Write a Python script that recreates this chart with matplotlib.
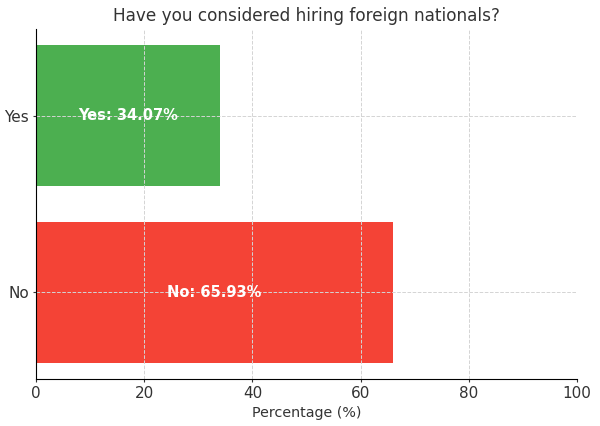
import matplotlib
matplotlib.use("Agg")
import matplotlib.pyplot as plt

categories = ["No", "Yes"]
values = [65.93, 34.07]
colors = ["#f44336", "#4caf50"]
xticks = [0, 20, 40, 60, 80, 100]

txt = "#333333"
fig = plt.figure(figsize=(6, 4.26), dpi=100)
ax = fig.add_axes([36/600, 1-379/426, (577-36)/600, (379-29)/426])
bars = ax.barh(categories, values, color=colors, height=0.8)
for i, (c, v) in enumerate(zip(categories, values)):
    ax.text(v/2, i, f"{c}: {v:.2f}%", color="white", fontweight="bold",
            fontsize=10.5, ha="center", va="center")
ax.set_xlim(0, 100)
ax.set_xticks(xticks)
ax.grid(True, linestyle="--", color="#d4d4d4", linewidth=0.7)
ax.spines["top"].set_visible(False)
ax.spines["right"].set_visible(False)
ax.tick_params(labelsize=11, colors=txt, length=2.5, pad=2.5)
ax.set_xlabel("Percentage (%)", fontsize=10.3, color=txt)
ax.set_title("Have you considered hiring foreign nationals?", fontsize=12.2, color=txt, pad=6)
fig.savefig("out.png", dpi=100)
